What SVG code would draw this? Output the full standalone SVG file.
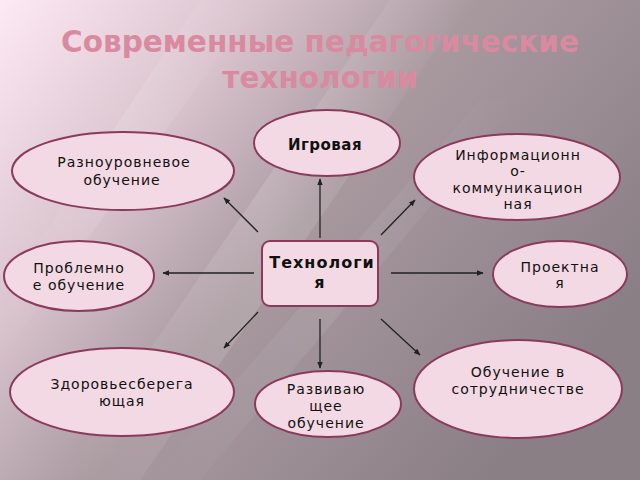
<svg xmlns="http://www.w3.org/2000/svg" width="640" height="480" viewBox="0 0 640 480">
<defs>
<linearGradient id="bg" x1="0" y1="0" x2="1" y2="0.6">
<stop offset="0" stop-color="#fde9f4"/>
<stop offset="0.3" stop-color="#d9c3cd"/>
<stop offset="0.55" stop-color="#a8999f"/>
<stop offset="1" stop-color="#8a7f85"/>
</linearGradient>
<linearGradient id="streak" x1="0" y1="0" x2="1" y2="0">
<stop offset="0" stop-color="#ffffff" stop-opacity="0"/>
<stop offset="0.5" stop-color="#ffffff" stop-opacity="0.25"/>
<stop offset="1" stop-color="#ffffff" stop-opacity="0"/>
</linearGradient>
<marker id="ah" viewBox="0 0 10 10" refX="9" refY="5" markerWidth="7" markerHeight="7" orient="auto" markerUnits="userSpaceOnUse">
<path d="M0,1 L10,5 L0,9 z" fill="#222"/>
</marker>
<style>
.n{fill:#f3d9e3;stroke:#8b3a5c;stroke-width:2}
.t{font-family:"DejaVu Sans",sans-serif;font-size:14px;letter-spacing:1px;fill:#111;text-anchor:middle}
.b{font-weight:bold;font-size:15px;letter-spacing:0.5px}
.bb{font-weight:bold;font-size:16px;letter-spacing:1px}
.c{stroke:#222;stroke-width:1.3;fill:none;marker-end:url(#ah)}
.title{font-family:"DejaVu Sans",sans-serif;font-weight:bold;font-size:29.5px;fill:#d98aa0;text-anchor:middle}
</style>
</defs>
<rect width="640" height="480" fill="url(#bg)"/>
<polygon points="60,480 140,480 470,0 390,0" fill="url(#streak)" opacity="0.6"/>
<polygon points="0,300 0,360 260,0 200,0" fill="url(#streak)" opacity="0.5"/>
<polygon points="150,480 200,480 520,100 480,100" fill="url(#streak)" opacity="0.35"/>
<g id="title">
<text class="title" x="320" y="52">Современные педагогические</text>
<text class="title" x="320" y="88">технологии</text>
</g>
<g id="connectors">
<line class="c" x1="320" y1="238" x2="320" y2="179"/>
<line class="c" x1="258" y1="232" x2="224" y2="198"/>
<line class="c" x1="381" y1="235" x2="415" y2="200"/>
<line class="c" x1="254" y1="273" x2="163" y2="273"/>
<line class="c" x1="391" y1="273" x2="483" y2="273"/>
<line class="c" x1="258" y1="312" x2="224" y2="348"/>
<line class="c" x1="320" y1="319" x2="320" y2="368"/>
<line class="c" x1="381" y1="319" x2="420" y2="355"/>
</g>
<g id="igrovaya">
<ellipse class="n" cx="327" cy="143" rx="73" ry="33"/>
<text class="t b" x="325" y="150">Игровая</text>
</g>
<g id="raznourovnevoe">
<ellipse class="n" cx="123" cy="171" rx="111" ry="39"/>
<text class="t" x="124" y="167">Разноуровневое</text>
<text class="t" x="122" y="185">обучение</text>
</g>
<g id="ikt">
<ellipse class="n" cx="517" cy="177" rx="103" ry="43"/>
<text class="t" x="518" y="160">Информационн</text>
<text class="t" x="518" y="176">о-</text>
<text class="t" x="518" y="193">коммуникацион</text>
<text class="t" x="518" y="209">ная</text>
</g>
<g id="problemnoe">
<ellipse class="n" cx="79" cy="276" rx="75" ry="35"/>
<text class="t" x="79" y="273">Проблемно</text>
<text class="t" x="79" y="290">е обучение</text>
</g>
<g id="tehnologiya">
<rect class="n" x="262" y="241" width="116" height="65" rx="8"/>
<text class="t bb" x="322" y="268">Технологи</text>
<text class="t bb" x="320" y="288">я</text>
</g>
<g id="proektnaya">
<ellipse class="n" cx="560" cy="274" rx="67" ry="33"/>
<text class="t" x="560" y="272">Проектна</text>
<text class="t" x="560" y="288">я</text>
</g>
<g id="zdorovie">
<ellipse class="n" cx="122" cy="392" rx="112" ry="44"/>
<text class="t" x="122" y="389">Здоровьесберега</text>
<text class="t" x="122" y="406">ющая</text>
</g>
<g id="razvivayuschee">
<ellipse class="n" cx="328" cy="404" rx="73" ry="33"/>
<text class="t" x="326" y="394">Развиваю</text>
<text class="t" x="326" y="411">щее</text>
<text class="t" x="326" y="428">обучение</text>
</g>
<g id="sotrudnichestvo">
<ellipse class="n" cx="518" cy="389" rx="104" ry="49"/>
<text class="t" x="518" y="377">Обучение в</text>
<text class="t" x="518" y="394">сотрудничестве</text>
</g>
</svg>
